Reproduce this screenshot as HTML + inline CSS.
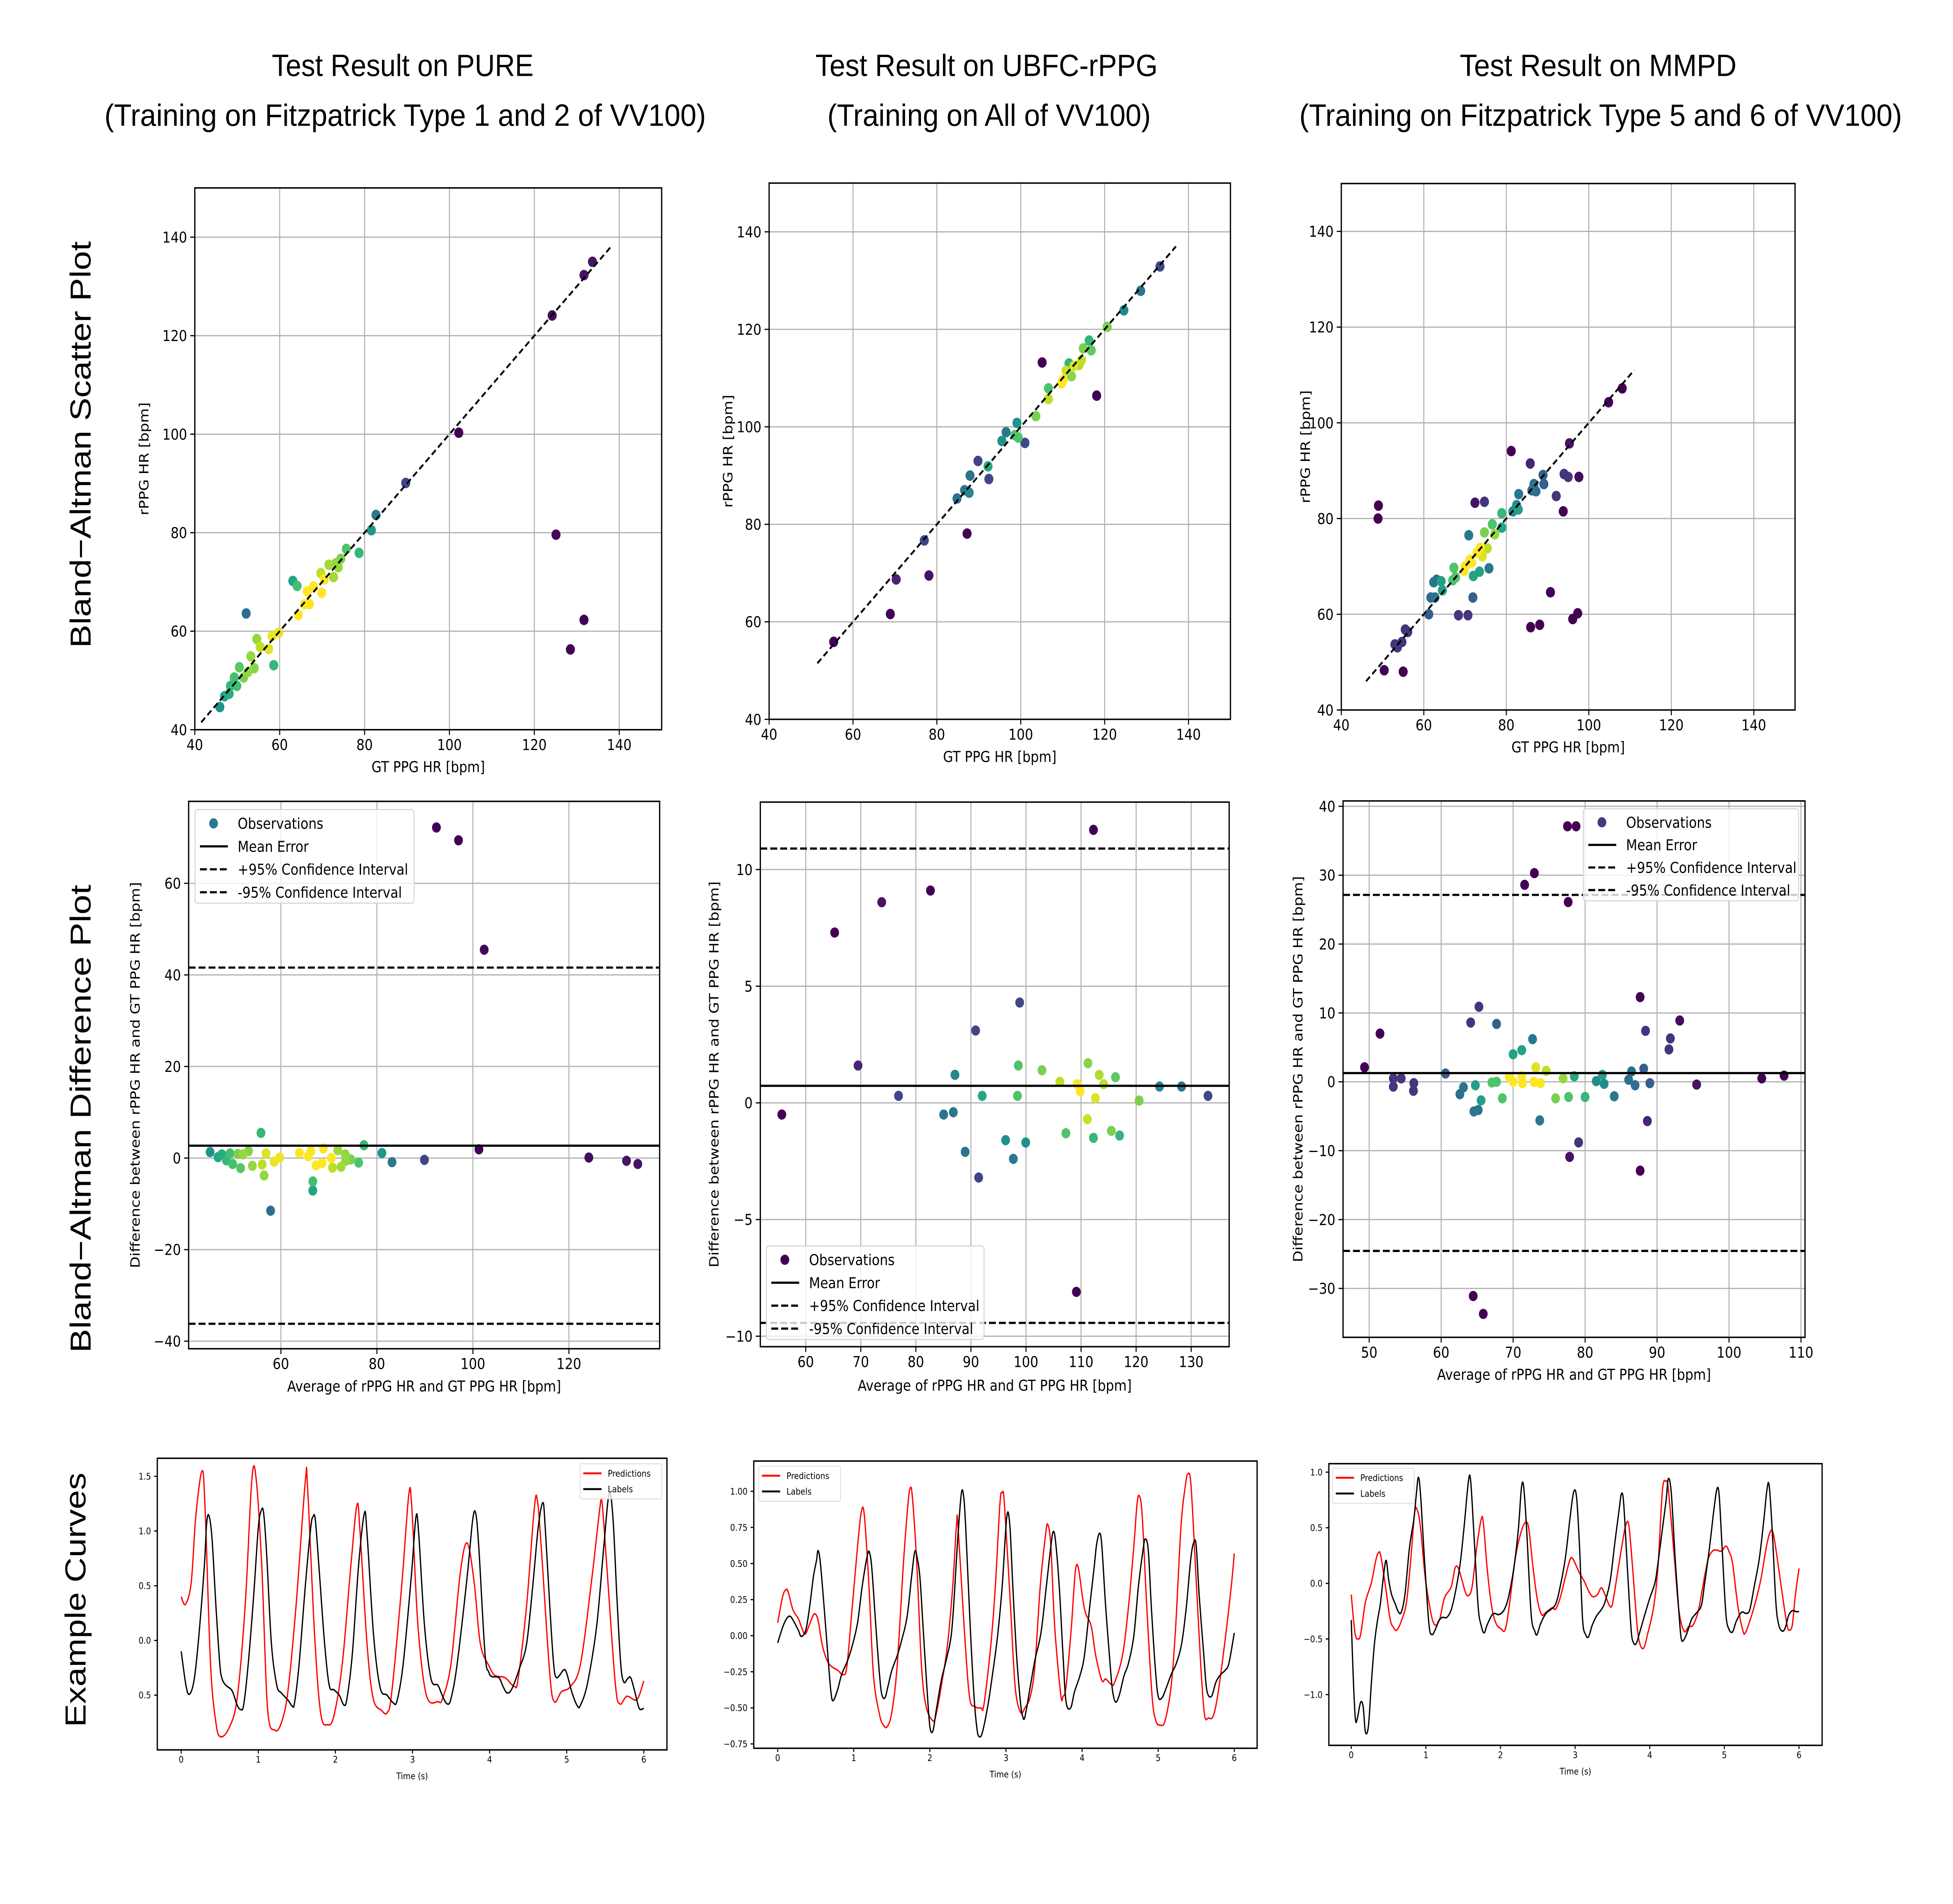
<!DOCTYPE html>
<html>
<head>
<meta charset="utf-8">
<style>
html,body{margin:0;padding:0;background:#fff;overflow:hidden;width:100vw;height:100vh;}
svg{display:block;width:100vw;height:100vh;}
text{font-family:"DejaVu Sans","Liberation Sans",sans-serif;fill:#000;}
.big{font-family:"Liberation Sans","DejaVu Sans",sans-serif;}
</style>
</head>
<body>
<svg id="chart" xmlns="http://www.w3.org/2000/svg" viewBox="0 0 1552 1302" preserveAspectRatio="none">
<rect x="0" y="0" width="1552" height="1302" fill="#fff"/>
<g>
<text class="big" x="320" y="52" font-size="21" text-anchor="middle" textLength="208" lengthAdjust="spacingAndGlyphs">Test Result on PURE</text>
<text class="big" x="322" y="86" font-size="21" text-anchor="middle" textLength="478" lengthAdjust="spacingAndGlyphs">(Training on Fitzpatrick Type 1 and 2 of VV100)</text>
<text class="big" x="784" y="52" font-size="21" text-anchor="middle" textLength="272" lengthAdjust="spacingAndGlyphs">Test Result on UBFC-rPPG</text>
<text class="big" x="786" y="86" font-size="21" text-anchor="middle" textLength="257" lengthAdjust="spacingAndGlyphs">(Training on All of VV100)</text>
<text class="big" x="1270" y="52" font-size="21" text-anchor="middle" textLength="220" lengthAdjust="spacingAndGlyphs">Test Result on MMPD</text>
<text class="big" x="1272" y="86" font-size="21" text-anchor="middle" textLength="479" lengthAdjust="spacingAndGlyphs">(Training on Fitzpatrick Type 5 and 6 of VV100)</text>
</g>
<g>
<text class="big" transform="translate(72,304) rotate(-90)" font-size="23" text-anchor="middle" textLength="278" lengthAdjust="spacingAndGlyphs">Bland−Altman Scatter Plot</text>
<text class="big" transform="translate(72,765) rotate(-90)" font-size="23" text-anchor="middle" textLength="320" lengthAdjust="spacingAndGlyphs">Bland−Altman Difference Plot</text>
<text class="big" transform="translate(68,1094) rotate(-90)" font-size="23" text-anchor="middle" textLength="174" lengthAdjust="spacingAndGlyphs">Example Curves</text>
</g>
</svg>
<script>
// ---------- PURE (column 1) ----------
const gt1 = [45.9,47.0,48.1,48.4,49.3,49.9,50.5,51.5,52.1,52.5,53.2,54.0,54.6,55.4,57.4,58.2,58.6,59.8,63.1,64.1,64.4,65.9,66.5,67.0,68.0,69.7,69.9,70.5,71.6,72.7,73.2,73.8,74.4,75.7,78.7,81.6,82.7,89.7,102.2,124.2,131.7,133.7,125.1,128.5,131.7];
const rppg1 = [44.6,46.8,47.3,48.9,50.6,48.9,52.7,50.6,63.6,51.7,54.9,52.5,58.4,56.8,56.4,59.0,53.1,59.7,70.2,69.2,63.3,65.5,68.1,65.5,69.1,71.8,67.8,70.5,73.5,71.0,73.8,73.0,74.7,76.7,75.9,80.5,83.6,90.1,100.3,124.1,132.3,135.0,79.6,56.3,62.3];
const dens1 = [0.5,0.6,0.62,0.66,0.7,0.7,0.74,0.8,0.36,0.84,0.84,0.82,0.84,0.9,0.95,0.97,0.66,0.97,0.58,0.7,1,1,1,1,1,0.9,1,1,0.86,0.86,0.84,0.84,0.8,0.72,0.66,0.52,0.4,0.2,0.0,0.03,0.05,0.05,0.02,0.0,0.0];
// ---------- UBFC-rPPG (column 2) ----------
const gt2 = [55.4,68.9,70.3,77.0,78.1,84.8,86.6,87.7,87.2,87.9,89.8,92.2,92.4,95.5,96.5,98.6,99.4,99.1,101.0,103.6,105.1,106.6,106.6,109.7,110.1,110.8,111.5,112.1,112.7,113.9,114.5,114.9,116.3,116.8,118.1,120.6,124.6,128.6,133.2];
const rppg2 = [55.9,61.6,68.7,76.7,69.5,85.3,87.0,86.5,78.1,90.0,93.0,91.9,89.3,97.1,98.9,98.3,97.8,100.8,96.7,102.2,113.2,105.7,107.9,108.9,109.6,111.5,113.0,110.4,112.5,112.7,113.7,116.1,117.7,115.7,106.4,120.5,123.9,127.9,132.9];
const dens2 = [0,0,0.1,0.2,0.05,0.38,0.4,0.45,0,0.38,0.2,0.6,0.2,0.5,0.4,0.72,0.72,0.5,0.22,0.8,0,0.9,0.72,1,1,0.92,0.66,0.82,0.95,0.88,0.9,0.8,0.66,0.75,0,0.8,0.46,0.38,0.22];
// ---------- MMPD (column 3) ----------
const gt3 = [48.9,49.0,50.4,53.0,53.6,54.7,55.0,55.5,56.1,61.2,61.7,62.7,62.4,63.1,64.2,64.5,67.0,67.3,67.7,68.4,69.8,70.0,70.7,70.9,71.2,71.6,71.9,72.0,72.4,72.9,73.5,73.7,74.2,74.7,74.7,75.4,75.8,76.6,77.2,78.9,78.9,81.2,81.6,82.5,82.9,83.0,85.8,85.9,86.2,86.7,87.2,88.1,88.9,89.1,90.7,92.1,93.8,94.0,95.0,95.3,96.1,97.3,97.6,104.8,108.1];
const rppg3 = [80.0,82.7,48.3,53.7,53.1,54.2,48.0,56.8,56.3,60.0,63.5,63.5,66.7,67.2,66.9,65.0,67.1,69.7,67.7,59.8,69.1,70.0,59.8,76.5,71.4,70.8,63.5,68.0,83.3,72.9,68.9,73.9,72.1,83.5,77.1,73.8,69.6,78.8,76.7,81.1,78.1,94.1,81.5,82.8,81.9,85.1,91.5,57.3,85.9,87.2,85.7,57.8,89.1,87.2,64.6,84.7,81.5,89.3,88.7,95.7,59.0,60.2,88.7,104.3,107.2];
const dens3 = [0,0,0,0.15,0.15,0.15,0,0.15,0.15,0.3,0.36,0.38,0.38,0.38,0.56,0.56,0.72,0.72,0.72,0.15,1,1,0.15,0.4,1,1,0.3,0.58,0.05,1,0.58,1,0.95,0.15,0.8,0.9,0.4,0.72,0.84,0.66,0.6,0,0.48,0.48,0.55,0.4,0.1,0,0.36,0.36,0.36,0,0.3,0.3,0,0.15,0,0.15,0.15,0.05,0,0,0.03,0,0];

// Bland-Altman statistics (mean error, +/-95% limits) per dataset
const meanErr = [2.7, 0.73, 1.27];
const ciUpper = [41.6, 10.9, 27.14];
const ciLower = [-36.2, -9.43, -24.55];
// identity line range per scatter plot
const identStart = [41.5, 51.5, 46];
const identEnd = [138, 137, 111];

// tick values
const scatterTicks = [40,60,80,100,120,140];
const diffXTicks1 = [60,80,100,120];
const diffYTicks1 = [-40,-20,0,20,40,60];
const diffXTicks2 = [60,70,80,90,100,110,120,130];
const diffYTicks2 = [-10,-5,0,5,10];
const diffXTicks3 = [50,60,70,80,90,100,110];
const diffYTicks3 = [-30,-20,-10,0,10,20,30,40];
const timeTicks = [0,1,2,3,4,5,6];
const curveYTicks1 = [1.5,1.0,0.5,0.0,-0.5];
const curveYLabels1 = ["1.5","1.0","0.5","0.0","0.5"];
const curveYTicks2 = [1.0,0.75,0.5,0.25,0,-0.25,-0.5,-0.75];
const curveYLabels2 = ["1.00","0.75","0.50","0.25","0.00","−0.25","−0.50","−0.75"];
const curveYTicks3 = [1.0,0.5,0.0,-0.5,-1.0];
const curveYLabels3 = ["1.0","0.5","0.0","−0.5","−1.0"];

// Example curves: time (s) and value
const t1r = [0,0.055,0.13,0.19,0.27,0.31,0.38,0.45,0.51,0.62,0.725,0.83,0.915,0.97,1.045,1.12,1.215,1.30,1.385,1.49,1.61,1.64,1.73,1.81,1.90,1.98,2.09,2.20,2.28,2.32,2.41,2.49,2.60,2.67,2.73,2.86,2.95,2.99,3.07,3.18,3.33,3.39,3.50,3.62,3.71,3.80,3.88,3.99,4.07,4.20,4.32,4.37,4.48,4.58,4.62,4.67,4.78,4.84,4.93,5.05,5.18,5.33,5.43,5.46,5.52,5.63,5.69,5.78,5.91,6.0];
const v1r = [0.40,0.33,0.53,1.14,1.55,1.21,-0.21,-0.75,-0.88,-0.80,-0.53,0.32,1.46,1.49,0.68,-0.62,-0.82,-0.75,-0.46,0.32,1.46,1.39,0.05,-0.67,-0.77,-0.69,-0.21,0.68,1.24,0.99,-0.03,-0.53,-0.64,-0.66,-0.48,0.50,1.32,1.23,0.14,-0.50,-0.56,-0.53,-0.21,0.62,0.89,0.53,-0.03,-0.23,-0.32,-0.34,-0.42,-0.35,0.32,1.21,1.28,0.85,-0.30,-0.56,-0.47,-0.42,-0.21,0.59,1.21,1.25,0.68,-0.39,-0.58,-0.51,-0.54,-0.37];
const t1b = [0,0.064,0.11,0.17,0.23,0.30,0.33,0.36,0.40,0.45,0.50,0.53,0.58,0.66,0.725,0.77,0.81,0.87,0.94,1.00,1.04,1.07,1.11,1.17,1.24,1.30,1.39,1.44,1.47,1.53,1.61,1.68,1.71,1.74,1.79,1.86,1.92,1.98,2.05,2.11,2.15,2.22,2.30,2.375,2.41,2.495,2.58,2.67,2.75,2.80,2.88,2.985,3.045,3.08,3.155,3.24,3.33,3.39,3.45,3.50,3.58,3.71,3.78,3.82,3.86,3.94,3.99,4.03,4.12,4.18,4.23,4.29,4.39,4.48,4.56,4.63,4.69,4.72,4.78,4.83,4.87,4.96,5.00,5.07,5.14,5.18,5.27,5.39,5.48,5.55,5.60,5.65,5.70,5.74,5.79,5.83,5.88,5.94,6.0];
const v1b = [-0.10,-0.42,-0.49,-0.35,0.05,0.68,1.07,1.14,0.93,0.32,-0.21,-0.35,-0.41,-0.46,-0.59,-0.63,-0.59,-0.21,0.41,1.03,1.19,1.16,0.77,-0.03,-0.41,-0.48,-0.55,-0.60,-0.57,-0.21,0.50,1.03,1.13,1.10,0.64,-0.03,-0.41,-0.45,-0.50,-0.59,-0.53,-0.12,0.68,1.16,0.98,0.05,-0.43,-0.50,-0.57,-0.55,-0.21,0.59,1.13,0.98,0.14,-0.35,-0.41,-0.51,-0.58,-0.53,-0.21,0.59,1.10,1.16,0.85,-0.12,-0.29,-0.33,-0.34,-0.43,-0.48,-0.44,-0.25,-0.03,0.50,1.03,1.26,1.05,0.32,-0.21,-0.34,-0.27,-0.30,-0.48,-0.60,-0.59,-0.39,0.14,0.85,1.34,1.12,0.41,-0.21,-0.38,-0.35,-0.34,-0.46,-0.62,-0.62];
const t2r = [0,0.065,0.11,0.14,0.20,0.27,0.31,0.36,0.42,0.48,0.53,0.58,0.64,0.70,0.79,0.86,0.91,0.98,1.05,1.10,1.14,1.20,1.26,1.34,1.39,1.44,1.50,1.57,1.65,1.71,1.74,1.77,1.83,1.89,1.95,2.04,2.08,2.15,2.23,2.30,2.35,2.37,2.45,2.52,2.59,2.67,2.71,2.80,2.86,2.92,2.95,2.98,3.06,3.12,3.19,3.25,3.32,3.38,3.45,3.52,3.55,3.59,3.64,3.72,3.75,3.79,3.86,3.91,3.95,4.01,4.05,4.12,4.18,4.26,4.31,4.39,4.43,4.53,4.61,4.68,4.72,4.75,4.79,4.85,4.92,4.97,5.03,5.09,5.17,5.23,5.30,5.36,5.39,5.43,5.49,5.56,5.61,5.66,5.72,5.78,5.87,5.96,6.0];
const v2r = [0.09,0.27,0.32,0.30,0.18,0.12,0.065,0.01,0.08,0.15,0.11,-0.05,-0.16,-0.21,-0.24,-0.27,-0.21,0.20,0.62,0.86,0.83,0.34,-0.28,-0.55,-0.62,-0.63,-0.53,-0.21,0.48,0.90,1.02,0.96,0.48,-0.21,-0.49,-0.59,-0.55,-0.35,-0.07,0.34,0.77,0.76,0.065,-0.42,-0.49,-0.50,-0.48,-0.07,0.34,0.91,0.99,0.91,0.20,-0.35,-0.53,-0.50,-0.42,-0.21,0.34,0.70,0.77,0.62,0.065,-0.41,-0.42,-0.35,0.065,0.44,0.47,0.25,0.15,0.065,-0.14,-0.31,-0.30,-0.34,-0.32,-0.14,0.20,0.62,0.90,0.97,0.83,0.20,-0.42,-0.59,-0.62,-0.59,-0.35,0.065,0.76,1.05,1.12,1.05,0.48,-0.21,-0.55,-0.57,-0.56,-0.42,-0.07,0.34,0.57];
const t2b = [0,0.07,0.12,0.16,0.20,0.27,0.31,0.37,0.42,0.47,0.51,0.53,0.56,0.61,0.66,0.70,0.73,0.79,0.84,0.92,0.98,1.05,1.11,1.18,1.21,1.24,1.29,1.34,1.37,1.41,1.45,1.50,1.57,1.63,1.70,1.76,1.80,1.83,1.87,1.91,1.96,2.00,2.04,2.08,2.15,2.21,2.28,2.32,2.36,2.41,2.44,2.47,2.53,2.58,2.62,2.65,2.69,2.76,2.82,2.89,2.95,3.01,3.05,3.09,3.14,3.19,3.22,3.25,3.32,3.38,3.46,3.53,3.59,3.62,3.65,3.70,3.75,3.79,3.85,3.90,3.97,4.03,4.10,4.16,4.19,4.23,4.26,4.31,4.37,4.40,4.44,4.49,4.55,4.61,4.68,4.74,4.80,4.83,4.87,4.91,4.96,5.00,5.05,5.10,5.17,5.24,5.31,5.37,5.43,5.47,5.50,5.54,5.60,5.64,5.70,5.76,5.82,5.88,5.93,6.0];
const v2b = [-0.05,0.065,0.12,0.135,0.11,0.04,-0.005,0.04,0.20,0.41,0.52,0.59,0.51,0.20,-0.14,-0.39,-0.45,-0.37,-0.27,-0.17,-0.07,0.09,0.34,0.56,0.57,0.45,0.065,-0.28,-0.41,-0.43,-0.35,-0.24,-0.14,-0.03,0.13,0.41,0.58,0.55,0.40,0.065,-0.35,-0.63,-0.66,-0.53,-0.31,-0.18,0.0,0.27,0.62,0.97,0.98,0.76,0.065,-0.42,-0.65,-0.70,-0.67,-0.49,-0.28,0.0,0.34,0.82,0.77,0.34,-0.14,-0.46,-0.56,-0.56,-0.35,-0.17,0.02,0.34,0.62,0.72,0.66,0.34,-0.14,-0.46,-0.50,-0.39,-0.28,-0.14,0.20,0.48,0.63,0.71,0.62,0.20,-0.21,-0.38,-0.46,-0.41,-0.28,-0.19,0.0,0.34,0.59,0.67,0.59,0.20,-0.21,-0.42,-0.43,-0.37,-0.27,-0.19,-0.05,0.20,0.54,0.65,0.62,0.27,-0.14,-0.38,-0.42,-0.32,-0.27,-0.24,-0.19,0.02];
const t3r = [0,0.05,0.095,0.13,0.19,0.27,0.33,0.365,0.395,0.46,0.52,0.57,0.61,0.67,0.74,0.80,0.85,0.89,0.93,0.99,1.06,1.10,1.14,1.19,1.25,1.34,1.39,1.43,1.48,1.53,1.57,1.62,1.68,1.74,1.77,1.82,1.88,1.94,2.01,2.06,2.11,2.20,2.28,2.34,2.38,2.43,2.49,2.55,2.61,2.69,2.74,2.80,2.87,2.93,2.97,3.06,3.12,3.19,3.24,3.30,3.35,3.40,3.46,3.50,3.56,3.63,3.68,3.72,3.77,3.83,3.87,3.92,3.97,4.05,4.11,4.17,4.22,4.25,4.33,4.39,4.46,4.52,4.58,4.65,4.71,4.78,4.84,4.89,4.96,5.02,5.06,5.11,5.18,5.25,5.28,5.33,5.41,5.49,5.56,5.61,5.65,5.70,5.78,5.84,5.87,5.91,5.95,6.0];
const v3r = [-0.10,-0.445,-0.50,-0.445,-0.17,0.006,0.21,0.275,0.25,-0.03,-0.32,-0.40,-0.42,-0.34,-0.17,0.23,0.64,0.65,0.49,0.06,-0.24,-0.35,-0.375,-0.31,-0.13,-0.03,0.135,0.144,0.04,-0.08,-0.11,-0.03,0.318,0.57,0.55,0.144,-0.20,-0.36,-0.41,-0.42,-0.24,0.23,0.47,0.55,0.49,0.18,-0.13,-0.28,-0.26,-0.22,-0.23,-0.13,0.058,0.21,0.22,0.09,0.023,-0.08,-0.12,-0.10,-0.04,-0.10,-0.20,-0.185,0.058,0.35,0.526,0.52,0.144,-0.375,-0.549,-0.58,-0.46,-0.22,0.144,0.838,0.916,0.838,0.23,-0.24,-0.43,-0.39,-0.375,-0.25,-0.03,0.21,0.29,0.30,0.29,0.335,0.29,0.18,-0.20,-0.43,-0.445,-0.36,-0.185,0.04,0.318,0.456,0.46,0.265,-0.115,-0.375,-0.42,-0.375,-0.115,0.135];
const t3b = [0,0.03,0.056,0.08,0.125,0.16,0.19,0.23,0.27,0.31,0.35,0.39,0.44,0.47,0.50,0.54,0.59,0.63,0.67,0.72,0.78,0.84,0.87,0.90,0.93,0.98,1.04,1.08,1.13,1.17,1.22,1.28,1.34,1.40,1.46,1.51,1.57,1.60,1.64,1.70,1.74,1.78,1.82,1.88,1.92,1.98,2.05,2.11,2.18,2.24,2.28,2.31,2.35,2.41,2.46,2.49,2.54,2.61,2.67,2.74,2.80,2.87,2.93,2.98,3.02,3.06,3.10,3.14,3.18,3.23,3.29,3.35,3.40,3.47,3.53,3.59,3.62,3.65,3.70,3.75,3.78,3.82,3.87,3.93,4.00,4.07,4.11,4.17,4.22,4.25,4.29,4.34,4.39,4.42,4.45,4.50,4.56,4.62,4.69,4.73,4.80,4.86,4.90,4.93,4.97,5.02,5.06,5.11,5.16,5.23,5.29,5.34,5.40,5.47,5.53,5.57,5.60,5.64,5.69,5.73,5.78,5.82,5.86,5.91,5.96,6.0];
const v3b = [-0.33,-0.895,-1.22,-1.22,-1.07,-1.11,-1.337,-1.285,-0.895,-0.549,-0.34,-0.185,0.11,0.205,0.04,-0.098,-0.185,-0.254,-0.26,-0.098,0.318,0.58,0.786,0.954,0.786,0.23,-0.358,-0.46,-0.41,-0.34,-0.306,-0.306,-0.237,-0.064,0.18,0.491,0.916,0.924,0.491,-0.202,-0.375,-0.445,-0.375,-0.29,-0.27,-0.28,-0.237,-0.115,0.144,0.491,0.855,0.872,0.491,-0.27,-0.43,-0.46,-0.358,-0.27,-0.237,-0.185,-0.029,0.23,0.578,0.82,0.77,0.318,-0.324,-0.46,-0.48,-0.375,-0.29,-0.237,-0.168,0.023,0.352,0.664,0.803,0.725,0.144,-0.41,-0.53,-0.54,-0.43,-0.29,-0.133,0.006,0.18,0.491,0.751,0.942,0.803,0.23,-0.254,-0.488,-0.514,-0.445,-0.324,-0.27,-0.202,-0.029,0.318,0.664,0.846,0.795,0.318,-0.27,-0.41,-0.436,-0.34,-0.26,-0.27,-0.237,-0.029,0.23,0.578,0.838,0.881,0.491,-0.168,-0.375,-0.43,-0.392,-0.29,-0.245,-0.254,-0.254];

// ---------- layout (pixels, not data) ----------
const NS = 'http://www.w3.org/2000/svg';
const svg = document.getElementById('chart');
const scatterBoxes = [
  {x0:154.8,x1:525.8,y0:128.5,y1:499,xl:[40,150],yl:[40,150],ylab:118,xlab:528},
  {x0:611.2,x1:977.8,y0:125.2,y1:491.9,xl:[40,150],yl:[40,150],ylab:582,xlab:521},
  {x0:1065.9,x1:1426.5,y0:125.5,y1:485.5,xl:[40,150],yl:[40,150],ylab:1041,xlab:514.5}
];
const diffBoxes = [
  {x0:149.9,x1:524.2,y0:548,y1:922.3,xl:[40.78,138.9],yl:[-41.65,77.9],ylab:111,xlab:951.5,leg:{x:155,y:553.6,w:174,h:64}},
  {x0:604.2,x1:976.8,y0:548.5,y1:920.9,xl:[51.75,136.9],yl:[-10.45,12.89],ylab:571,xlab:951,leg:{x:609,y:852,w:173,h:64}},
  {x0:1067.3,x1:1434.4,y0:547.7,y1:914.5,xl:[46.37,110.56],yl:[-37.1,40.78],ylab:1035,xlab:943.5,leg:{x:1258.3,y:553,w:171,h:63}}
];
const curveBoxes = [
  {x0:125,x1:530,y0:997.2,y1:1196.6,xl:[-0.31,6.3],yl:[-1.0,1.665],leg:{x:461,y:1001,w:65,h:24}},
  {x0:599,x1:999,y0:999.1,y1:1195.5,xl:[-0.314,6.3],yl:[-0.78,1.21],leg:{x:603,y:1002.6,w:65,h:24}},
  {x0:1056,x1:1448,y0:1000.9,y1:1193.5,xl:[-0.30,6.31],yl:[-1.456,1.076],leg:{x:1059,y:1004,w:65,h:24}}
];

const VIR = ['#440154','#482475','#414487','#355f8d','#2a788e','#21918c','#22a884','#44bf70','#7ad151','#bddf26','#fde725'];
function hex2rgb(h){return [parseInt(h.substr(1,2),16),parseInt(h.substr(3,2),16),parseInt(h.substr(5,2),16)];}
function viridis(v){
  v=Math.max(0,Math.min(1,v));
  const p=v*10, i=Math.min(9,Math.floor(p)), f=p-i;
  const a=hex2rgb(VIR[i]), b=hex2rgb(VIR[i+1]);
  return 'rgb('+a.map((c,k)=>Math.round(c+(b[k]-c)*f)).join(',')+')';
}
function mk(tag,parent){const e=document.createElementNS(NS,tag);parent.appendChild(e);return e;}
function sx(b,v){return b.x0+(v-b.xl[0])/(b.xl[1]-b.xl[0])*(b.x1-b.x0);}
function sy(b,v){return b.y1-(v-b.yl[0])/(b.yl[1]-b.yl[0])*(b.y1-b.y0);}
function fmt(v){return v<0?'−'+Math.abs(v):String(v);}
function setLine(l,x1,y1,x2,y2,stroke,w){l.setAttribute('x1',x1);l.setAttribute('y1',y1);l.setAttribute('x2',x2);l.setAttribute('y2',y2);l.setAttribute('stroke',stroke);l.setAttribute('stroke-width',w);}
function setText(t,x,y,s,size,anchor){t.setAttribute('x',x);t.setAttribute('y',y);t.setAttribute('font-size',size);t.setAttribute('text-anchor',anchor);t.textContent=s;}

function drawAxesFrame(g,b,xt,yt,xlabels,ylabels,fs,grid,tickLen){
  if(grid){
    xt.forEach(v=>{
      const l=mk('line',g);
      setLine(l,sx(b,v),b.y0,sx(b,v),b.y1,'#b0b0b0',0.8);
      
      
    });
    yt.forEach(v=>{
      const l=mk('line',g);
      setLine(l,b.x0,sy(b,v),b.x1,sy(b,v),'#b0b0b0',0.8);
      
      
    });
  }
  xt.forEach((v,i)=>{
    const x=sx(b,v);
    const l=mk('line',g);
    setLine(l,x,b.y1,x,b.y1+tickLen,'#000',0.8);
    
    
    const t=mk('text',g);
    setText(t,x,b.y1+tickLen+fs*1.0,xlabels[i],fs,'middle');
    
    
  });
  yt.forEach((v,i)=>{
    const y=sy(b,v);
    const l=mk('line',g);
    setLine(l,b.x0-tickLen,y,b.x0,y,'#000',0.8);
    
    
    const t=mk('text',g);
    setText(t,b.x0-tickLen-2.5,y+fs*0.36,ylabels[i],fs,'end');
    
    
  });
}
function drawFrame(g,b){
  const r=mk('rect',g);
  r.setAttribute('x',b.x0);r.setAttribute('y',b.y0);
  r.setAttribute('width',b.x1-b.x0);r.setAttribute('height',b.y1-b.y0);
  r.setAttribute('fill','none');r.setAttribute('stroke','#000');r.setAttribute('stroke-width',1);
  
  
}

// ---------- scatter plots ----------
const GT=[gt1,gt2,gt3], RP=[rppg1,rppg2,rppg3], DN=[dens1,dens2,dens3];
const diffXT=[diffXTicks1,diffXTicks2,diffXTicks3], diffYT=[diffYTicks1,diffYTicks2,diffYTicks3];
scatterBoxes.forEach((b,k)=>{
  const g=mk('g',svg);
  
  
  drawAxesFrame(g,b,scatterTicks,scatterTicks,scatterTicks.map(String),scatterTicks.map(String),10.3,true,3.6);
  const n=Math.min(GT[k].length,RP[k].length);
  const order=[...Array(n).keys()].sort((a,c)=>DN[k][a]-DN[k][c]);
  order.forEach(i=>{
    const c=mk('circle',g);
    c.setAttribute('cx',sx(b,GT[k][i]));
    c.setAttribute('cy',sy(b,RP[k][i]));
    c.setAttribute('r',3.6);
    c.setAttribute('fill',viridis(DN[k][i]));
    
    
  });
  const d=mk('line',g);
  setLine(d,sx(b,identStart[k]),sy(b,identStart[k]),sx(b,identEnd[k]),sy(b,identEnd[k]),'#000',1.4);
  d.setAttribute('stroke-dasharray','4.4 2.6');
  
  
  drawFrame(g,b);
  const xl=mk('text',g);
  setText(xl,(b.x0+b.x1)/2,b.xlab,'GT PPG HR [bpm]',10.3,'middle');
  
  
  const yl=mk('text',g);
  setText(yl,0,0,'rPPG HR [bpm]',10.3,'middle');
  yl.setAttribute('transform','translate('+b.ylab+','+((b.y0+b.y1)/2)+') rotate(-90)');
  
  
});

// ---------- difference plots ----------
diffBoxes.forEach((b,k)=>{
  const g=mk('g',svg);
  
  
  drawAxesFrame(g,b,diffXT[k],diffYT[k],diffXT[k].map(fmt),diffYT[k].map(fmt),10.3,true,3.6);
  const n=Math.min(GT[k].length,RP[k].length);
  const order=[...Array(n).keys()].sort((a,c)=>DN[k][a]-DN[k][c]);
  order.forEach(i=>{
    const avg=(GT[k][i]+RP[k][i])/2, diff=GT[k][i]-RP[k][i];
    const c=mk('circle',g);
    c.setAttribute('cx',sx(b,avg));
    c.setAttribute('cy',sy(b,diff));
    c.setAttribute('r',3.5);
    c.setAttribute('fill',viridis(DN[k][i]));
    
    
  });
  const m=mk('line',g);
  setLine(m,b.x0,sy(b,meanErr[k]),b.x1,sy(b,meanErr[k]),'#000',1.5);
  
  
  const u=mk('line',g);
  setLine(u,b.x0,sy(b,ciUpper[k]),b.x1,sy(b,ciUpper[k]),'#000',1.5);
  u.setAttribute('stroke-dasharray','5.5 2.4');
  
  
  const lo=mk('line',g);
  setLine(lo,b.x0,sy(b,ciLower[k]),b.x1,sy(b,ciLower[k]),'#000',1.5);
  lo.setAttribute('stroke-dasharray','5.5 2.4');
  
  
  drawFrame(g,b);
  const L=b.leg;
  const lg=mk('g',g);
  
  
  const lr=mk('rect',lg);
  lr.setAttribute('x',L.x);lr.setAttribute('y',L.y);lr.setAttribute('width',L.w);lr.setAttribute('height',L.h);
  lr.setAttribute('rx',2);lr.setAttribute('fill','#fff');lr.setAttribute('fill-opacity','0.8');
  lr.setAttribute('stroke','#d6d6d6');lr.setAttribute('stroke-width',0.8);
  
  
  const step=L.h/4.2, ey0=L.y+step*0.62;
  const names=['Observations','Mean Error','+95% Confidence Interval','-95% Confidence Interval'];
  const legColors=['#2a788e','#440154','#443a83'];
  names.forEach((nm,j)=>{
    const ey=ey0+j*step*1.03;
    if(j===0){
      const c=mk('circle',lg);
      c.setAttribute('cx',L.x+14.7);c.setAttribute('cy',ey);c.setAttribute('r',3.5);
      c.setAttribute('fill',legColors[k]);
      
      
    } else {
      const l=mk('line',lg);
      setLine(l,L.x+3.9,ey,L.x+26.1,ey,'#000',1.5);
      if(j>1) l.setAttribute('stroke-dasharray','5.5 2.4');
      
      
    }
    const t=mk('text',lg);
    setText(t,L.x+33.9,ey+3.7,nm,10.3,'start');
    
    
  });
  const xl=mk('text',g);
  setText(xl,(b.x0+b.x1)/2,b.xlab,'Average of rPPG HR and GT PPG HR [bpm]',10.3,'middle');
  
  
  const yl=mk('text',g);
  setText(yl,0,0,'Difference between rPPG HR and GT PPG HR [bpm]',10.3,'middle');
  yl.setAttribute('transform','translate('+b.ylab+','+((b.y0+b.y1)/2)+') rotate(-90)');
  yl.setAttribute('textLength','264');
  yl.setAttribute('lengthAdjust','spacingAndGlyphs');
  
  
});

// ---------- example curves ----------
function smoothPath(b,ts,vs){
  const n=Math.min(ts.length,vs.length);
  const P=[];for(let i=0;i<n;i++)P.push([sx(b,ts[i]),sy(b,vs[i])]);
  let d='M'+P[0][0].toFixed(2)+','+P[0][1].toFixed(2);
  for(let i=0;i<n-1;i++){
    const p0=P[Math.max(0,i-1)],p1=P[i],p2=P[i+1],p3=P[Math.min(n-1,i+2)];
    const k=1/6;
    const c1=[p1[0]+(p2[0]-p0[0])*k,p1[1]+(p2[1]-p0[1])*k];
    const c2=[p2[0]-(p3[0]-p1[0])*k,p2[1]-(p3[1]-p1[1])*k];
    d+='C'+c1[0].toFixed(2)+','+c1[1].toFixed(2)+' '+c2[0].toFixed(2)+','+c2[1].toFixed(2)+' '+p2[0].toFixed(2)+','+p2[1].toFixed(2);
  }
  return d;
}
const predT=[t1r,t2r,t3r], predV=[v1r,v2r,v3r], labT=[t1b,t2b,t3b], labV=[v1b,v2b,v3b];
const cYT=[curveYTicks1,curveYTicks2,curveYTicks3], cYL=[curveYLabels1,curveYLabels2,curveYLabels3];
curveBoxes.forEach((b,k)=>{
  const g=mk('g',svg);
  
  
  drawAxesFrame(g,b,timeTicks,cYT[k],timeTicks.map(String),cYL[k],6.2,false,2.5);
  const cp=mk('clipPath',g);
  cp.setAttribute('id','clip'+k);
  const cr=mk('rect',cp);
  cr.setAttribute('x',b.x0);cr.setAttribute('y',b.y0);cr.setAttribute('width',b.x1-b.x0);cr.setAttribute('height',b.y1-b.y0);
  const pr=mk('path',g);
  pr.setAttribute('d',smoothPath(b,predT[k],predV[k]));
  pr.setAttribute('fill','none');pr.setAttribute('stroke','#ff0000');pr.setAttribute('stroke-width',1.0);
  pr.setAttribute('clip-path','url(#clip'+k+')');
  
  
  const lb=mk('path',g);
  lb.setAttribute('d',smoothPath(b,labT[k],labV[k]));
  lb.setAttribute('fill','none');lb.setAttribute('stroke','#000');lb.setAttribute('stroke-width',1.0);
  lb.setAttribute('clip-path','url(#clip'+k+')');
  
  
  drawFrame(g,b);
  const L=b.leg;
  const lg=mk('g',g);
  
  
  const lr=mk('rect',lg);
  lr.setAttribute('x',L.x);lr.setAttribute('y',L.y);lr.setAttribute('width',L.w);lr.setAttribute('height',L.h);
  lr.setAttribute('rx',1);lr.setAttribute('fill','#fff');lr.setAttribute('fill-opacity','0.8');
  lr.setAttribute('stroke','#d6d6d6');lr.setAttribute('stroke-width',0.5);
  
  
  [['Predictions','#ff0000'],['Labels','#000']].forEach((e,j)=>{
    const ey=L.y+6.5+j*10.8;
    const l=mk('line',lg);
    setLine(l,L.x+2.5,ey,L.x+17,ey,e[1],1.3);
    
    
    const t=mk('text',lg);
    setText(t,L.x+22,ey+2.2,e[0],6.2,'start');
    
    
  });
  const xl=mk('text',g);
  setText(xl,(b.x0+b.x1)/2,b.y1+20,'Time (s)',6.2,'middle');
  
  
});
</script>
</body>
</html>
